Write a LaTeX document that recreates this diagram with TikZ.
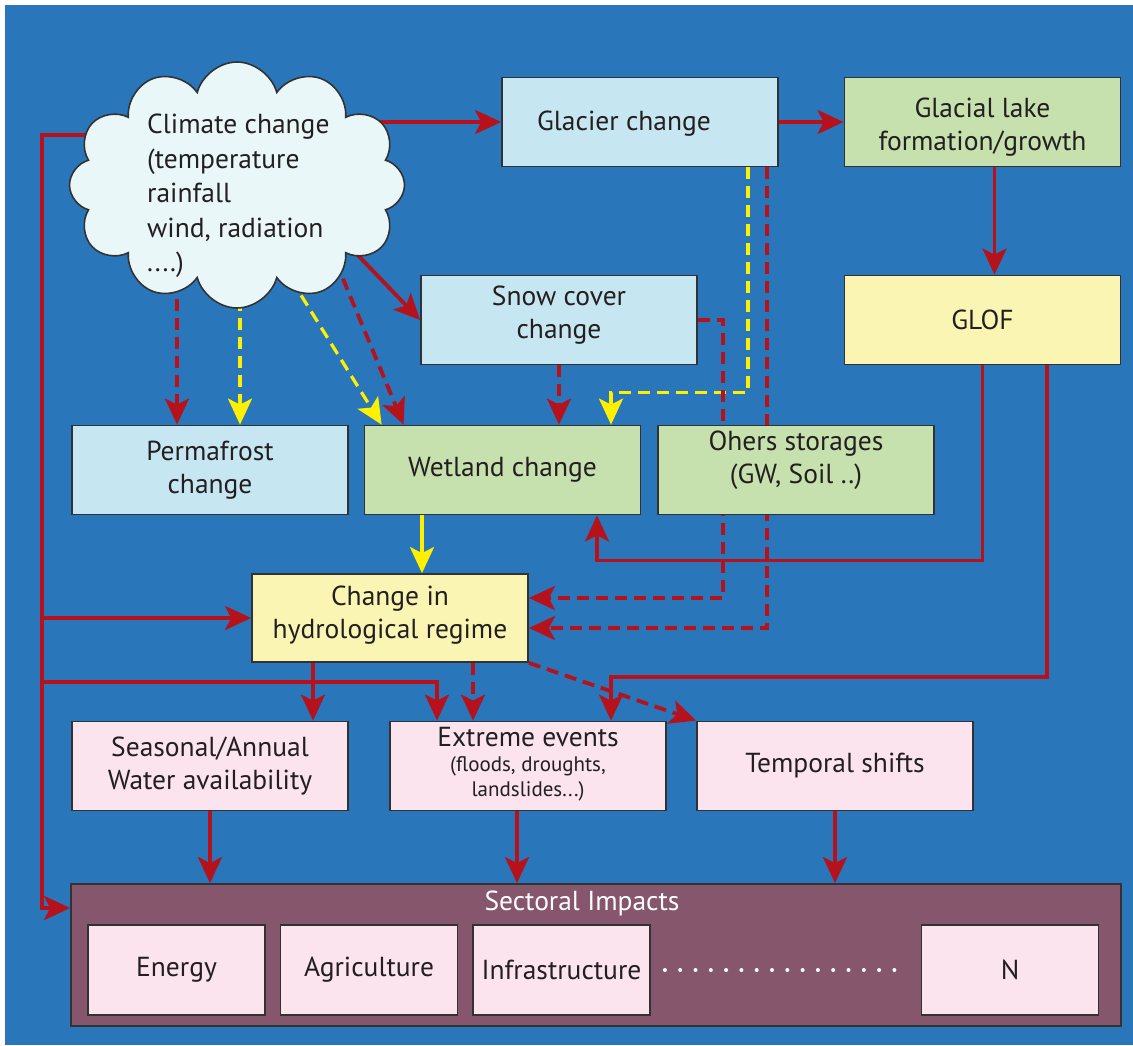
\documentclass[tikz,border=0pt]{standalone}
\usepackage{fontspec}
\setmainfont{PT Sans}
\usetikzlibrary{arrows.meta,shapes.symbols,calc}
\pgfdeclarelayer{bg}
\pgfdeclarelayer{lines}
\pgfsetlayers{bg,lines,main}
\definecolor{bgblue}{RGB}{42,118,186}
\definecolor{arrred}{RGB}{181,18,27}
\definecolor{lineyel}{RGB}{255,240,0}
\definecolor{iceblue}{RGB}{198,230,241}
\definecolor{leafgreen}{RGB}{198,224,174}
\definecolor{paleyel}{RGB}{251,245,180}
\definecolor{palepink}{RGB}{252,228,238}
\definecolor{plum}{RGB}{133,86,108}
\definecolor{cloudfill}{RGB}{234,247,248}
\definecolor{edgegray}{RGB}{50,50,50}
\definecolor{txt}{RGB}{35,31,32}
\newcommand\mainfs{\fontsize{27.5}{33}\selectfont}
\newcommand\smallfs{\fontsize{21}{25}\selectfont}
\tikzset{
  box/.style={draw=edgegray, line width=1.8pt, minimum width=276pt, minimum height=89pt,
    align=center, inner sep=0pt, text=txt, font=\mainfs},
  icebox/.style={box, fill=iceblue},
  greenbox/.style={box, fill=leafgreen},
  yelbox/.style={box, fill=paleyel},
  pinkbox/.style={box, fill=palepink},
  sectbox/.style={box, fill=palepink, minimum width=177pt, minimum height=90pt},
  boxlabel/.style={align=center, inner sep=0pt, text=txt, font=\mainfs},
  tip/.style={-{Stealth[length=26pt,width=24pt,inset=6pt]}},
  redarr/.style={draw=arrred, line width=3.8pt, tip},
  reddash/.style={redarr, dash pattern=on 12pt off 7pt},
  yelarr/.style={draw=lineyel, line width=3.2pt, tip},
  yeldash/.style={yelarr, dash pattern=on 12pt off 7pt},
}
\begin{document}
\begin{tikzpicture}[x=1pt,y=-1pt]
\useasboundingbox (0,0) rectangle (1133,1046);
\begin{pgfonlayer}{bg}
\fill[bgblue] (5,5) rectangle (1133,1045);
\end{pgfonlayer}

% nodes
\node[cloud, cloud puffs=12, cloud ignores aspect, draw=edgegray, line width=1.6pt, fill=cloudfill,
  minimum width=335pt, minimum height=246pt, inner sep=0pt] (cloud) at (237,185) {};
\node[anchor=north west, align=left, inner sep=0pt, text=txt, font=\fontsize{27.5}{34.5}\selectfont]
  (ctext) at (147,114) {Climate change\\(temperature\\rainfall\\wind, radiation\\....)};

\node[icebox] (glacier) at (640,122) {};
\node[boxlabel] (glaciertext) at (624,124) {Glacier change};
\node[greenbox] (lake) at (982.5,122) {};
\node[boxlabel] (laketext) at (982.5,127) {Glacial lake\\formation/growth};
\node[yelbox] (glof) at (982.5,320) {GLOF};
\node[icebox] (snow) at (559,320) {};
\node[boxlabel] (snowtext) at (559,315) {Snow cover\\change};
\node[icebox] (perma) at (210,470) {Permafrost\\change};
\node[greenbox] (wet) at (502.5,470) {Wetland change};
\node[greenbox] (other) at (796,470) {};
\node[boxlabel] (othertext) at (796,460) {Ohers storages\\(GW, Soil ..)};
\node[yelbox, minimum height=88pt] (hydro) at (390,618) {};
\node[boxlabel] (hydrotext) at (390,615) {Change in\\hydrological regime};
\node[pinkbox] (seas) at (210,766) {Seasonal/Annual\\Water availability};
\node[pinkbox] (extreme) at (528,766) {};
\node[boxlabel, anchor=base] (extremetext) at (528,746) {Extreme events};
\node[boxlabel, font=\smallfs] (extremesub) at (528,779) {(floods, droughts,\\landslides...)};
\node[pinkbox] (temporal) at (835,766) {Temporal shifts};

\node[box, fill=plum, minimum width=1050pt, minimum height=142pt] (sector) at (596,955) {};
\node[text=white, font=\mainfs, inner sep=0pt] (sectlabel) at (582,903) {Sectoral Impacts};
\node[sectbox] (energy) at (176.5,970) {Energy};
\node[sectbox] (agri) at (369,970) {Agriculture};
\node[sectbox] (infra) at (561.5,970) {Infrastructure};
\node[sectbox] (nbox) at (1010,970) {N};

\coordinate (tl) at (42,135);
\coordinate (tb) at (42,908);
\coordinate (tx) at (42,682);

\begin{pgfonlayer}{lines}
\draw[redarr] (cloud.center |- glacier.west) -- (glacier.west);
\draw[redarr] (glacier.east) -- (lake.west);
\draw[redarr] ([xshift=12pt]lake.south) -- ([xshift=12pt]glof.north);
\draw[redarr] ($(cloud.center)+(64,11)$) -- (snow.west);
% cloud -> permafrost
\draw[reddash] ([xshift=-33pt]perma.north |- cloud.center) -- ([xshift=-33pt]perma.north);
\draw[yeldash] ([xshift=30pt]perma.north |- cloud.center) -- ([xshift=30pt]perma.north);
% cloud -> wetland
\draw[yeldash] ($(cloud.center)+(34,62)$) -- ([xshift=18pt]wet.north west);
\draw[reddash] ($(cloud.center)+(84,41)$) -- ([xshift=40pt]wet.north west);
% snow -> wetland
\draw[reddash] (snow.south) -- (snow.south |- wet.north);
% glacier -> wetland
\draw[yeldash] ([xshift=-31pt]glacier.south east) |- ([xshift=108.5pt,yshift=32pt]wet.north) -- ([xshift=108.5pt]wet.north);
% glacier -> hydro
\draw[reddash] ([xshift=-12pt]glacier.south east) |- ([yshift=-10pt]hydro.east);
% snow -> hydro
\draw[reddash] (snow.east) -- ++(25,0) |- ([yshift=20pt]hydro.east);
% glof -> wetland
\draw[redarr] (glof.south) |- ([xshift=94.5pt,yshift=-45pt]wet.south) -- ([xshift=94.5pt]wet.south);
% glof -> extreme
\draw[redarr] ([xshift=64.5pt]glof.south) |- ([xshift=83pt,yshift=44pt]extreme.north) -- ([xshift=83pt]extreme.north);
% wetland -> hydro
\draw[yelarr] ([xshift=-80.5pt]wet.south) -- ([xshift=32pt]hydro.north);
% trunk
\draw[redarr] (cloud.center |- tl) -- (tl) -- (tb) -- (sector.west |- tb);
\draw[redarr] (tl |- hydro.west) -- (hydro.west);
\draw[redarr] (tx) -| ([xshift=-91pt]extreme.north);
% hydro -> outputs
\draw[redarr] ([xshift=-77pt]hydro.south) -- ([xshift=103pt]seas.north);
\draw[reddash] ([xshift=83pt]hydro.south) -- ([xshift=-55pt]extreme.north);
\draw[reddash] (hydro.south east) -- (temporal.north west);
% outputs -> sector
\draw[redarr] (seas.south) -- (seas.south |- sector.north);
\draw[redarr] ([xshift=-11pt]extreme.south) -- ([xshift=-11pt]extreme.south |- sector.north);
\draw[redarr] (temporal.south) -- (temporal.south |- sector.north);
\end{pgfonlayer}

\draw[white, line width=4pt, dash pattern=on 0pt off 15.3pt, line cap=round]
  ([xshift=14pt]infra.east) -- ([xshift=-14pt]nbox.west);
\end{tikzpicture}
\end{document}
